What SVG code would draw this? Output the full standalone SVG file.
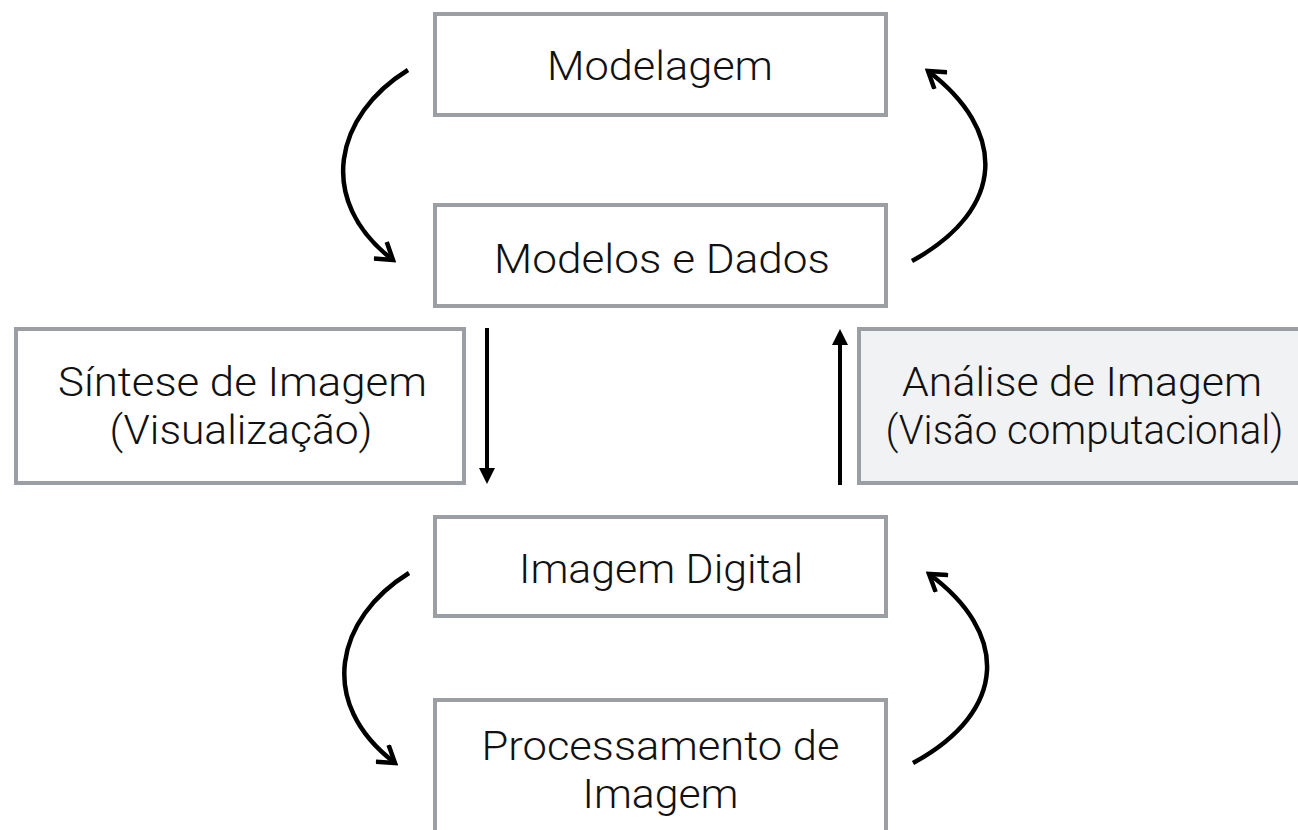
<svg xmlns="http://www.w3.org/2000/svg" width="1298" height="830" viewBox="0 0 1298 830">
  <style>
    .box { fill: #ffffff; stroke: #9b9ea2; stroke-width: 4; }
    .box.shaded { fill: #f1f2f4; }
    .label { font-family: Roboto, "Liberation Sans", sans-serif; font-weight: 300; font-size: 40px; fill: #111111; text-anchor: middle; }
    .curve { fill: none; stroke: #000000; stroke-width: 4.5; stroke-linecap: butt; }
    .straight { fill: none; stroke: #000000; stroke-width: 4; }
  </style>
  <defs>
    <marker id="chevron" viewBox="0 0 24 24" refX="20" refY="12" markerWidth="24" markerHeight="24" markerUnits="userSpaceOnUse" orient="auto">
      <path d="M4,1.5 L20,12 L4,22.5" fill="none" stroke="#000000" stroke-width="4.5" stroke-linejoin="miter"/>
    </marker>
    <marker id="triangle" viewBox="0 0 16 16" refX="2" refY="8" markerWidth="16" markerHeight="16" markerUnits="userSpaceOnUse" orient="auto">
      <path d="M0,0 L16,8 L0,16 Z" fill="#000000"/>
    </marker>
  </defs>

  <g id="node-modelagem">
    <rect class="box" x="435" y="14" width="451" height="101"/>
    <text class="label" x="660" y="80" textLength="226" lengthAdjust="spacingAndGlyphs">Modelagem</text>
  </g>

  <g id="node-modelos-dados">
    <rect class="box" x="435" y="205" width="451" height="101"/>
    <text class="label" x="662" y="273" textLength="336" lengthAdjust="spacingAndGlyphs">Modelos e Dados</text>
  </g>

  <g id="node-sintese">
    <rect class="box" x="16" y="329" width="448" height="154"/>
    <text class="label" x="242.5" y="396" textLength="369" lengthAdjust="spacingAndGlyphs">Síntese de Imagem</text>
    <text class="label" x="241" y="444" textLength="263" lengthAdjust="spacingAndGlyphs">(Visualização)</text>
  </g>

  <g id="node-analise">
    <rect class="box shaded" x="859" y="329" width="458" height="154"/>
    <text class="label" x="1082" y="396" textLength="360" lengthAdjust="spacingAndGlyphs">Análise de Imagem</text>
    <text class="label" x="1084.5" y="444" textLength="398" lengthAdjust="spacingAndGlyphs">(Visão computacional)</text>
  </g>

  <g id="node-imagem-digital">
    <rect class="box" x="435" y="517" width="451" height="99"/>
    <text class="label" x="661" y="583" textLength="284" lengthAdjust="spacingAndGlyphs">Imagem Digital</text>
  </g>

  <g id="node-processamento">
    <rect class="box" x="435" y="700" width="451" height="150"/>
    <text class="label" x="660.5" y="760" textLength="358" lengthAdjust="spacingAndGlyphs">Processamento de</text>
    <text class="label" x="660.5" y="808" textLength="156" lengthAdjust="spacingAndGlyphs">Imagem</text>
  </g>

  <g id="connectors">
    <!-- loop between Modelagem and Modelos e Dados -->
    <path class="curve" d="M408,70 C335,115 315,200 393,260" marker-end="url(#chevron)"/>
    <path class="curve" d="M912,261 C1008,208 1006,130 928,71" marker-end="url(#chevron)"/>
    <!-- synthesis down, analysis up -->
    <path class="straight" d="M487,328 L487,470" marker-end="url(#triangle)"/>
    <path class="straight" d="M840,485 L840,343" marker-end="url(#triangle)"/>
    <!-- loop between Imagem Digital and Processamento -->
    <path class="curve" d="M409,573 C336,618 316,703 395,763" marker-end="url(#chevron)"/>
    <path class="curve" d="M913,763 C1010,710 1008,632 929,574" marker-end="url(#chevron)"/>
  </g>
</svg>
